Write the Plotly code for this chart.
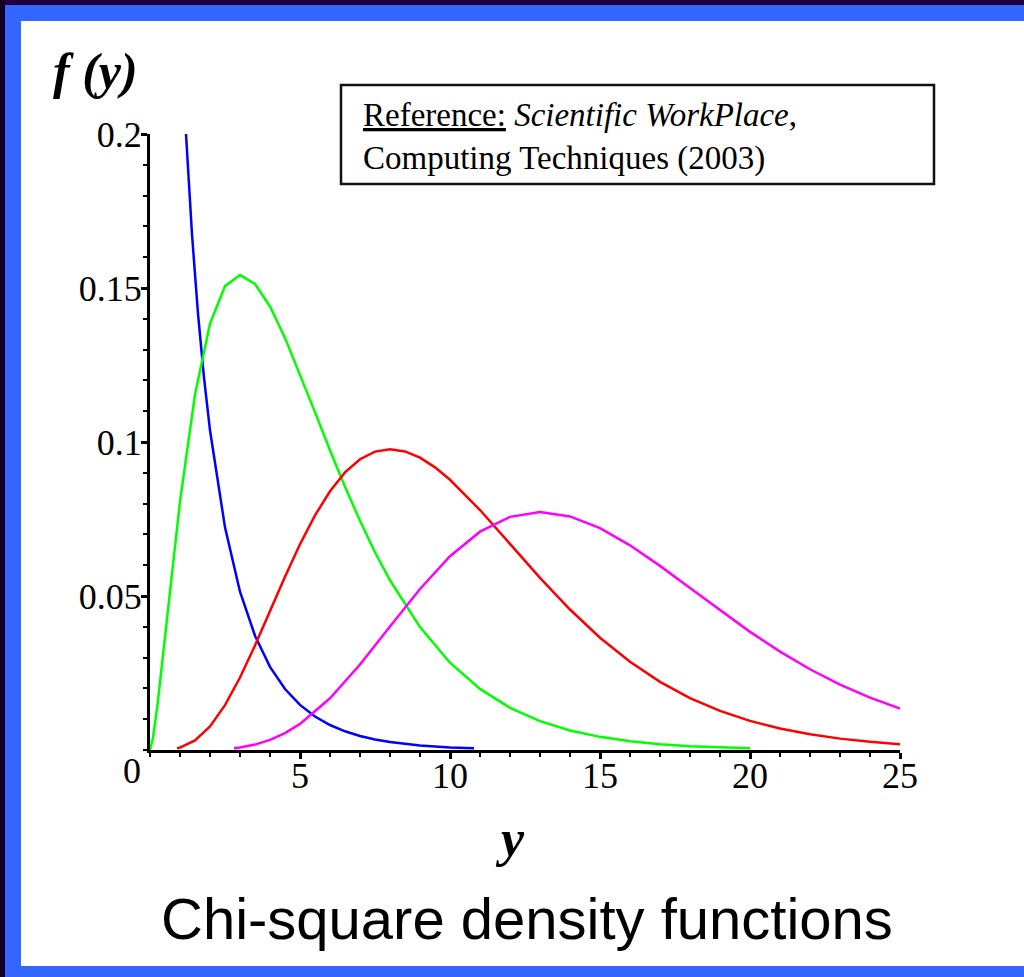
import plotly.graph_objects as go

# ---- data ----
blue_x = [1.2, 1.4, 1.6, 1.8, 2.0, 2.5, 3.0, 3.5, 4.0, 4.5, 5.0, 5.5, 6.0, 6.5, 7.0, 7.5, 8.0, 9.0, 10.0, 10.8]
blue_y = [0.2000, 0.1674, 0.1417, 0.1209, 0.1038, 0.0723, 0.0514, 0.0371, 0.0270, 0.0198, 0.01465, 0.01087,
          0.00811, 0.00607, 0.00455, 0.00343, 0.00258, 0.00148, 0.00085, 0.00055]

green_x = [0.0, 0.1, 0.25, 0.5, 0.75, 1.0, 1.5, 2.0, 2.5, 3.0, 3.5, 4.0, 4.5, 5.0, 5.5, 6.0, 6.5, 7.0, 7.5, 8.0,
           9.0, 10.0, 11.0, 12.0, 13.0, 14.0, 15.0, 16.0, 17.0, 18.0, 19.0, 20.0]
green_y = [0.0, 0.0040, 0.01467, 0.03662, 0.05936, 0.08066, 0.1154, 0.1384, 0.1506, 0.1542, 0.1513, 0.1440,
           0.1338, 0.1220, 0.1097, 0.0973, 0.0855, 0.0744, 0.0642, 0.0551, 0.0399, 0.02833, 0.01983, 0.01370,
           0.00937, 0.00635, 0.00427, 0.00286, 0.00190, 0.00125, 0.00082, 0.00054]

red_x = [0.9, 1.0, 1.5, 2.0, 2.5, 3.0, 3.5, 4.0, 4.5, 5.0, 5.5, 6.0, 6.5, 7.0, 7.5, 8.0, 8.5, 9.0, 9.5, 10.0,
         11.0, 12.0, 13.0, 14.0, 15.0, 16.0, 17.0, 18.0, 19.0, 20.0, 21.0, 22.0, 23.0, 24.0, 25.0]
red_y = [0.00052, 0.00079, 0.00311, 0.00766, 0.01457, 0.02353, 0.03395, 0.04511, 0.05628, 0.06680, 0.07617,
         0.08402, 0.09012, 0.09440, 0.09689, 0.09768, 0.09695, 0.09490, 0.09176, 0.08773, 0.07791, 0.06693,
         0.05591, 0.04561, 0.03646, 0.02863, 0.02213, 0.01687, 0.01270, 0.00946, 0.00697, 0.00509, 0.00369,
         0.00265, 0.00190]

magenta_x = [2.8, 3.0, 3.5, 4.0, 4.5, 5.0, 6.0, 7.0, 8.0, 9.0, 10.0, 11.0, 12.0, 13.0, 14.0, 15.0, 16.0,
             17.0, 18.0, 19.0, 20.0, 21.0, 22.0, 23.0, 24.0, 25.0]
magenta_y = [0.00060, 0.00083, 0.00176, 0.00327, 0.00548, 0.00847, 0.01680, 0.02775, 0.04009, 0.05229,
             0.06290, 0.07089, 0.07569, 0.07724, 0.07584, 0.07203, 0.06646, 0.05978, 0.05257, 0.04532,
             0.03836, 0.03195, 0.02622, 0.02123, 0.01698, 0.01343]

x_tickvals = [5, 10, 15, 20, 25]
x_ticktext = ["5", "10", "15", "20", "25"]
y_tickvals = [0.05, 0.1, 0.15, 0.2]
y_ticktext = ["0.05", "0.1", "0.15", "0.2"]

title_text = "Chi-square density functions"
ref_text = "<u>Reference:</u> <i>Scientific WorkPlace</i>,<br>Computing Techniques (2003)"

# ---- layout geometry (pixels) ----
W, H = 1024, 977
L, R, T, B = 150, 124, 134, 227
PW, PH = W - L - R, H - T - B


def px(x):
    return (x - L) / PW


def py(y):
    return (H - B - y) / PH


fig = go.Figure()
for xs, ys, col in [(blue_x, blue_y, "#0000FF"), (green_x, green_y, "#00FF00"),
                    (red_x, red_y, "#FF0000"), (magenta_x, magenta_y, "#FF00FF")]:
    fig.add_trace(go.Scatter(x=xs, y=ys, mode="lines", line=dict(color=col, width=2.5),
                             showlegend=False, hoverinfo="skip"))

serif = "Liberation Serif"
tickfont = dict(family=serif, size=36, color="black")

fig.update_xaxes(range=[0, 25], tickvals=x_tickvals, ticktext=x_ticktext, showgrid=False, zeroline=False,
                 showline=True, linecolor="black", linewidth=3, ticks="outside", ticklen=6, tickwidth=3,
                 tickcolor="black", tickfont=tickfont, ticklabelstandoff=-14,
                 minor=dict(dtick=1, ticks="outside", ticklen=4, tickwidth=2, tickcolor="black"))
fig.update_yaxes(range=[0, 0.2], tickvals=y_tickvals, ticktext=y_ticktext, showgrid=False, zeroline=False,
                 showline=True, linecolor="black", linewidth=3, ticks="outside", ticklen=6, tickwidth=3,
                 tickcolor="black", tickfont=tickfont, ticklabelstandoff=-8,
                 minor=dict(dtick=0.01, ticks="outside", ticklen=4, tickwidth=2, tickcolor="black"))

shapes = [
    # dark outer strips
    dict(type="rect", xref="paper", yref="paper", x0=px(0), x1=px(W), y0=py(0), y1=py(5),
         fillcolor="#22003f", line_width=0, layer="above"),
    dict(type="rect", xref="paper", yref="paper", x0=px(0), x1=px(5), y0=py(0), y1=py(H),
         fillcolor="#120020", line_width=0, layer="above"),
    # blue frame
    dict(type="rect", xref="paper", yref="paper", x0=px(5), x1=px(W), y0=py(5), y1=py(21),
         fillcolor="#3366FF", line_width=0, layer="above"),
    dict(type="rect", xref="paper", yref="paper", x0=px(5), x1=px(21), y0=py(5), y1=py(H),
         fillcolor="#3366FF", line_width=0, layer="above"),
    dict(type="rect", xref="paper", yref="paper", x0=px(5), x1=px(W), y0=py(966), y1=py(H),
         fillcolor="#3366FF", line_width=0, layer="above"),
    # reference box
    dict(type="rect", xref="paper", yref="paper", x0=px(341), x1=px(934), y0=py(184), y1=py(85),
         line=dict(color="#111111", width=2.5), fillcolor="rgba(0,0,0,0)", layer="above"),
]

annotations = [
    dict(text="0", x=0, y=0, xref="x", yref="y", showarrow=False, font=tickfont,
         xshift=-18, yshift=-21, xanchor="center", yanchor="middle"),
    dict(text="<b><i>f (y)</i></b>", x=px(95), y=py(71), xref="paper", yref="paper", showarrow=False,
         xanchor="center", yanchor="middle", font=dict(family=serif, size=50, color="black")),
    dict(text="<b><i>y</i></b>", x=px(510), y=py(838), xref="paper", yref="paper", showarrow=False,
         xanchor="center", yanchor="middle", font=dict(family=serif, size=52, color="black")),
    dict(text=title_text, x=px(527), y=py(918), xref="paper", yref="paper", showarrow=False,
         xanchor="center", yanchor="middle", font=dict(family="Liberation Sans", size=58, color="black")),
    dict(text=ref_text, x=px(361), y=py(95), xref="paper", yref="paper", showarrow=False,
         xanchor="left", yanchor="top", align="left",
         font=dict(family=serif, size=33, color="black")),
]

fig.update_layout(width=W, height=H, margin=dict(l=L, r=R, t=T, b=B, autoexpand=False),
                  paper_bgcolor="white", plot_bgcolor="white", shapes=shapes, annotations=annotations)

fig.write_html("out.html", config={"displayModeBar": False},
               post_script="document.body.style.margin='0';document.body.style.padding='0';")
